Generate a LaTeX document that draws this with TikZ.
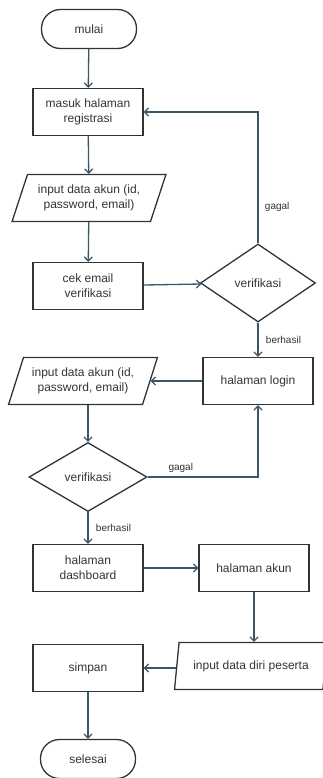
\documentclass[tikz,border=0pt]{standalone}
\usepackage{fontspec}
\setmainfont{Liberation Sans}
\usetikzlibrary{shapes.geometric,arrows.meta}
\definecolor{garis}{HTML}{3E5566}
\definecolor{tepi}{HTML}{333333}
\begin{document}
\begin{tikzpicture}[x=1pt,y=-1pt]
\tikzset{kotak/.style={draw=tepi, line width=1.3pt, minimum width=110pt, minimum height=47pt, align=center, text=tepi, font=\fontsize{12}{15}\selectfont, inner sep=2pt}}
\tikzset{terminal/.style={kotak, rounded corners=19pt, minimum width=95pt, minimum height=39pt}}
\tikzset{jajar/.style={kotak, trapezium, trapezium left angle=64, trapezium right angle=116, trapezium stretches=true, inner sep=0pt}}
\tikzset{belah/.style={kotak, diamond, inner sep=0pt}}
\tikzset{panah/.style={draw=garis, line width=1.3pt, -{Straight Barb[length=4pt,width=8pt]}}}
\tikzset{ket/.style={text=tepi, font=\fontsize{10}{12}\selectfont}}
\useasboundingbox (0,0) rectangle (323,778);
\node[terminal] (mulai) at (89,29) {mulai};
\node[kotak] (reg) at (88,112) {masuk halaman\\registrasi};
\node[jajar, minimum width=154pt] (in1) at (89,198) {input data akun (id,\\password, email)};
\node[kotak] (cek) at (88,286) {cek email\\verifikasi};
\node[belah, minimum width=115pt, minimum height=78pt] (ver1) at (258,283) {verifikasi};
\node[kotak] (login) at (258,381) {halaman login};
\node[jajar, minimum width=149pt] (in2) at (83,381) {input data akun (id,\\password, email)};
\node[belah, minimum width=118pt, minimum height=69pt] (ver2) at (88,477) {verifikasi};
\node[kotak] (dash) at (88,568) {halaman\\dashboard};
\node[kotak] (akun) at (254,568) {halaman akun};
\node[jajar, minimum width=153pt, trapezium left angle=72, trapezium right angle=108] (in3) at (251,666) {input data diri peserta};
\node[kotak] (simpan) at (88,668) {simpan};
\node[terminal] (selesai) at (88,759) {selesai};
\draw[panah] (mulai) -- (reg);
\draw[panah] (reg) -- (in1);
\draw[panah] (in1) -- (cek);
\draw[panah] (cek) -- (ver1);
\draw[panah] (ver1.north) |- (reg.east) node[ket, pos=0.14, right=3pt] {gagal};
\draw[panah] (ver1) -- (login) node[ket, midway, right=4pt] {berhasil};
\draw[panah] (login) -- (in2.east |- login);
\draw[panah] (ver2.north |- in2.south) -- (ver2.north);
\draw[panah] (ver2.east) -| (login.south) node[ket, pos=0.15, above] {gagal};
\draw[panah] (ver2) -- (dash) node[ket, midway, right=4pt] {berhasil};
\draw[panah] (dash) -- (akun);
\draw[panah] (akun) -- (akun.south |- in3.north);
\draw[panah] (in3.west |- simpan) -- (simpan);
\draw[panah] (simpan) -- (selesai);
\end{tikzpicture}
\end{document}
